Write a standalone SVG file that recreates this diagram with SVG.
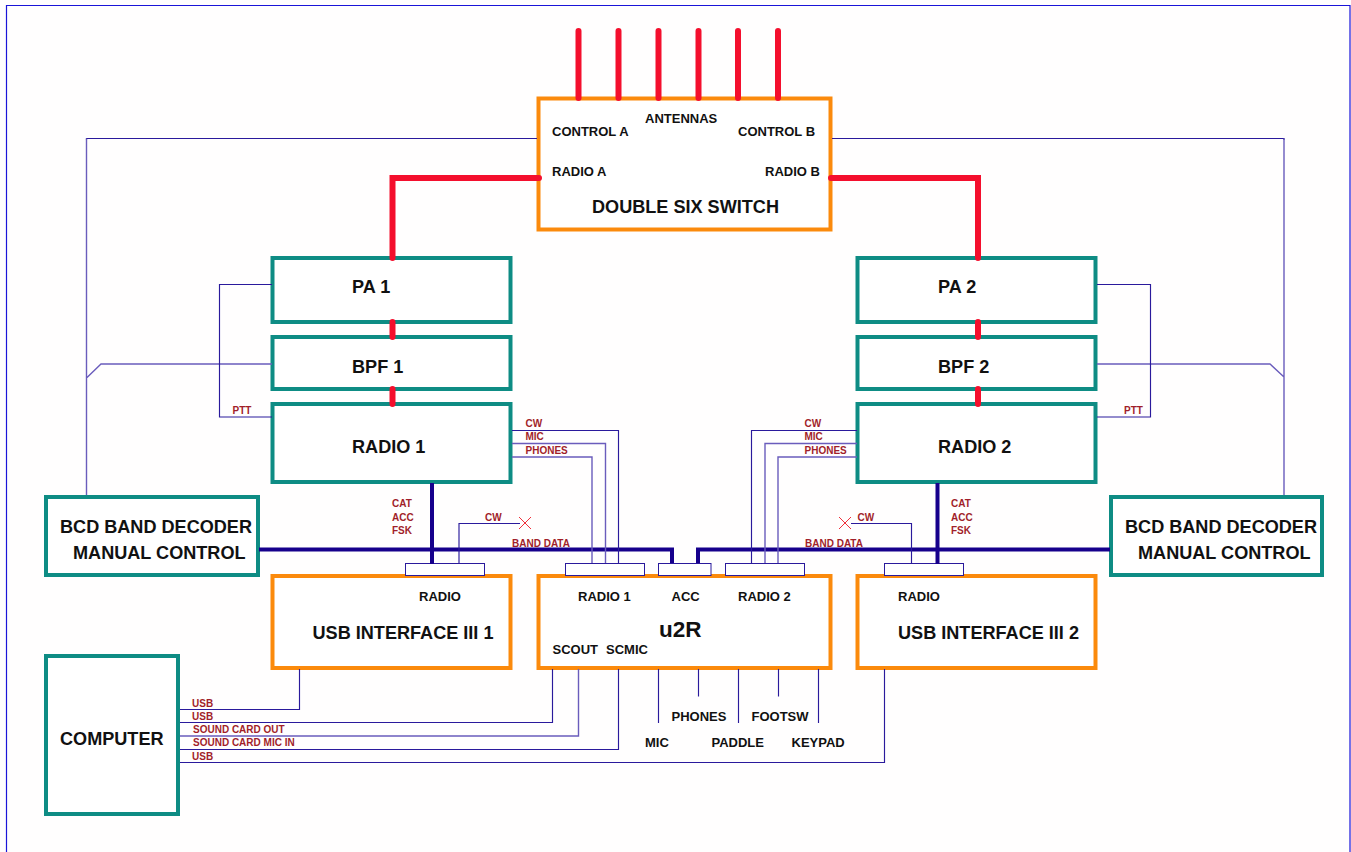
<svg xmlns="http://www.w3.org/2000/svg" width="1351" height="852" viewBox="0 0 1351 852">
<style>
text{font-family:"Liberation Sans",Arial,sans-serif;font-weight:bold;fill:#111}
.s{font-size:13px}.m{font-size:18.1px}
.r{font-size:10px;fill:#a11f2a}
.box{fill:#fff;stroke-width:4}
.o{stroke:#fb8a0c}.t{stroke:#0e8c84}
.port{fill:#fff;stroke:#2a1a9c;stroke-width:1}
.thin,.lite,.rf,.nv,.x{fill:none}
.thin{stroke:#2a1a9c;stroke-width:1.15}
.lite{stroke:#6a5cbc;stroke-width:1.4}
.rf{stroke:#f40f2d;stroke-width:6;stroke-linecap:round;stroke-linejoin:miter}
.nv{stroke:#16008c;stroke-width:4}
.x{stroke:#f0303a;stroke-width:1}
</style>
<rect width="1351" height="852" fill="#fffefe"/>
<path d="M6.5 852V5.500H1350V852" fill="none" stroke="#1a14d8" stroke-width="1.2"/>

<g id="switch"><rect class="box o" x="538.5" y="98.5" width="292" height="131"/>
<text class="s" x="645" y="122.5">ANTENNAS</text><text class="s" x="552" y="136">CONTROL A</text><text class="s" x="738" y="136">CONTROL B</text><text class="s" x="552" y="176">RADIO A</text><text class="s" x="765" y="176">RADIO B</text><text class="m" x="592" y="213">DOUBLE SIX SWITCH</text></g>
<g id="pa1"><rect class="box t" x="272.5" y="258" width="238" height="64"/><text class="m" x="352" y="293">PA 1</text></g>
<g id="bpf1"><rect class="box t" x="272.5" y="337" width="238" height="52"/><text class="m" x="352" y="373">BPF 1</text></g>
<g id="radio1"><rect class="box t" x="272.5" y="404" width="238" height="78"/><text class="m" x="352" y="453">RADIO 1</text></g>
<g id="pa2"><rect class="box t" x="857.5" y="258" width="238" height="64"/><text class="m" x="938" y="293">PA 2</text></g>
<g id="bpf2"><rect class="box t" x="857.5" y="337" width="238" height="52"/><text class="m" x="938" y="373">BPF 2</text></g>
<g id="radio2"><rect class="box t" x="857.5" y="404" width="238" height="78"/><text class="m" x="938" y="453">RADIO 2</text></g>
<g id="bcd1"><rect class="box t" x="46" y="497" width="212" height="78"/><text class="m" x="60" y="533">BCD BAND DECODER</text><text class="m" x="73" y="559">MANUAL CONTROL</text></g>
<g id="bcd2"><rect class="box t" x="1111" y="497" width="211" height="78"/><text class="m" x="1125" y="533">BCD BAND DECODER</text><text class="m" x="1138" y="559">MANUAL CONTROL</text></g>
<g id="computer"><rect class="box t" x="46" y="656" width="132" height="158"/><text class="m" x="60" y="745">COMPUTER</text></g>
<g id="usb1"><rect class="box o" x="272.5" y="576" width="238" height="92"/><text class="s" x="419" y="601">RADIO</text><text class="m" x="312.5" y="639">USB INTERFACE III 1</text></g>
<g id="u2r"><rect class="box o" x="538.5" y="576" width="292" height="92"/><text class="s" x="578" y="601">RADIO 1</text><text class="s" x="671.5" y="601">ACC</text><text class="s" x="738" y="601">RADIO 2</text><text x="659" y="637" font-size="22.5">u2R</text><text class="s" x="552.5" y="654">SCOUT</text><text class="s" x="606" y="654">SCMIC</text></g>
<g id="usb2"><rect class="box o" x="857.5" y="576" width="238" height="92"/><text class="s" x="898" y="601">RADIO</text><text class="m" x="898" y="639">USB INTERFACE III 2</text></g>
<g id="ports"><rect class="port" x="405.5" y="563.5" width="79" height="12"/><rect class="port" x="565.5" y="563.5" width="79" height="12"/><rect class="port" x="658.5" y="563.5" width="52.5" height="12"/><rect class="port" x="725.5" y="563.5" width="79" height="12"/><rect class="port" x="884.5" y="563.5" width="79" height="12"/></g>
<g id="external-labels"><text class="s" x="671.5" y="720.5">PHONES</text><text class="s" x="751.5" y="720.5">FOOTSW</text><text class="s" x="645" y="747">MIC</text><text class="s" x="711.5" y="747">PADDLE</text><text class="s" x="791.5" y="747">KEYPAD</text></g>

<g id="connectors">
<path class="rf" d="M578.5 31V98M618.5 31V98M658.5 31V98M698.5 31V98M738 31V98M778 31V98"/>
<path class="rf" d="M539 178H392.5V258M392.5 322V337M392.5 389V404M831 178H978V258M978 322V337M978 389V404" stroke-linecap="butt"/>
<path class="nv" d="M259 549.5H672V563M1110 549.5H698V563M432 483V564M937.5 483V564"/>
<path class="thin" d="M537 138.5H86.5V140M832 138.5H1284V140"/>
<path class="lite" d="M272 364H101L86.5 378M1097 364H1270L1284 377M1284 138.5V495M86.5 138.5V495"/>
<path class="thin" d="M272 284.5H219.5V417H272M1097 284.5H1150.5V417H1097"/>
<path class="thin" d="M512 430.5H618.5V563M857 430.5H751.5V563"/>
<path class="lite" d="M512 443.5H605.5V563M512 457H592V563M857 443.5H765V563M857 457H778V563"/>
<path class="thin" d="M459 563V523.500H520M911.5 563V523.5H851"/>
<path class="x" d="M519 517L531 529M531 517L519 529M839 517L851 529M851 517L839 529"/>
<path class="thin" d="M180 709.5H299.5V669M180 722.5H552.5V669M180 762.5H884.5V669"/>
<path class="lite" d="M180 736H578.5V669"/>
<path class="thin" d="M180 749.5H618.5V669M658.5 669V723M698.5 669V696.5M738.5 669V723M778.5 669V696.5M818.5 669V723"/>
<text class="r" x="232.5" y="414">PTT</text><text class="r" x="1124" y="414">PTT</text>
<text class="r" x="525.5" y="427">CW</text><text class="r" x="525.5" y="440">MIC</text><text class="r" x="525.5" y="453.5">PHONES</text>
<text class="r" x="804.5" y="427">CW</text><text class="r" x="804.5" y="440">MIC</text><text class="r" x="804.5" y="453.5">PHONES</text>
<text class="r" x="392" y="507">CAT</text><text class="r" x="392" y="520.5">ACC</text><text class="r" x="392" y="533.5">FSK</text>
<text class="r" x="951" y="507">CAT</text><text class="r" x="951" y="520.5">ACC</text><text class="r" x="951" y="533.5">FSK</text>
<text class="r" x="485" y="520.5">CW</text><text class="r" x="857.5" y="520.5">CW</text>
<text class="r" x="512" y="547">BAND DATA</text><text class="r" x="805" y="547">BAND DATA</text>
<text class="r" x="192" y="706.5">USB</text><text class="r" x="192" y="719.5">USB</text><text class="r" x="193" y="733">SOUND CARD OUT</text><text class="r" x="193" y="746">SOUND CARD MIC IN</text><text class="r" x="192" y="759.5">USB</text>
</g>
</svg>
